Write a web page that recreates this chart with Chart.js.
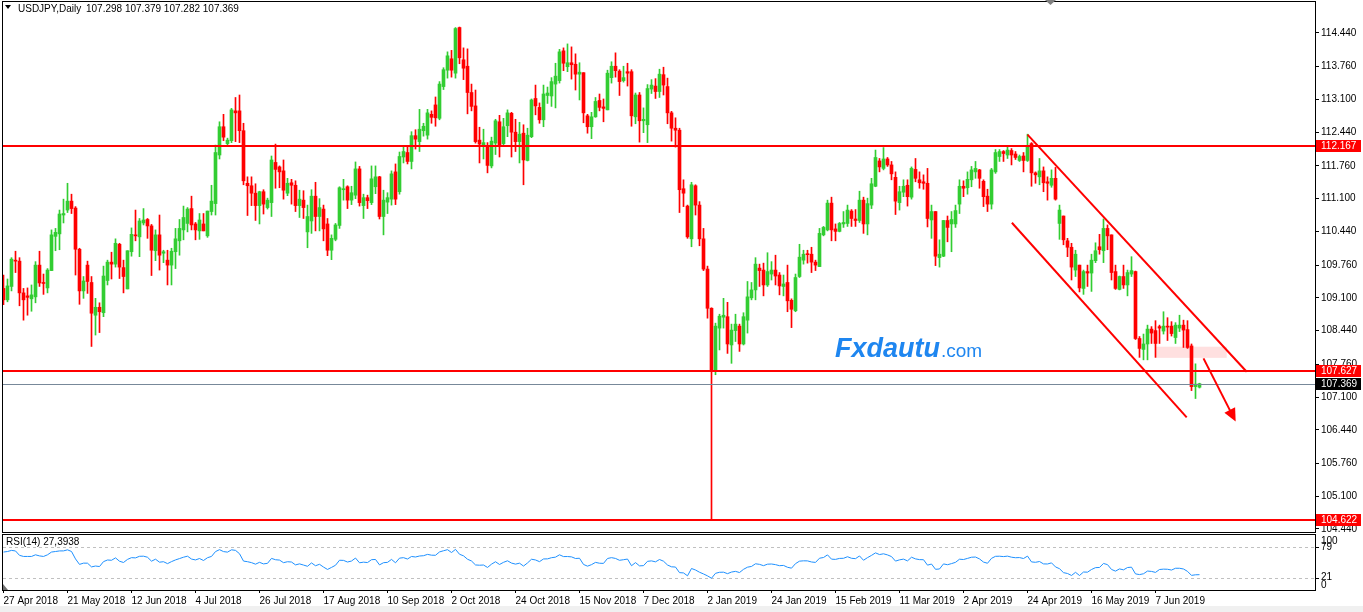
<!DOCTYPE html>
<html>
<head>
<meta charset="utf-8">
<script src="https://cdn.jsdelivr.net/npm/chart.js@4.4.1/dist/chart.umd.min.js"></script>
<style>
  html, body { margin: 0; padding: 0; background: #fff; }
  body { width: 1363px; height: 612px; position: relative; overflow: hidden; }
  #main { position: absolute; left: 0; top: 0; }
  #rsi { position: absolute; left: 0; top: 533px; }
  #strip { position: absolute; left: 0; top: 606px; width: 1363px; height: 6px; background: #f0f0f0; }
</style>
</head>
<body>
<div id="strip"></div>
<canvas id="main" width="1363" height="534"></canvas>
<canvas id="rsi" width="1363" height="79"></canvas>
<script>
// USDJPY daily bars, 27 Apr 2018 .. 24 Jun 2019
const openPrices = [
  109.29,109.06,109.33,109.86,109.84,109.20,109.14,109.08,109.12,109.76,
  109.41,109.30,109.65,110.34,110.39,110.77,110.87,111.05,110.91,110.08,
  109.24,109.76,109.41,108.75,108.91,108.80,109.45,109.82,109.78,110.18,
  109.71,109.28,110.03,110.37,110.33,110.61,110.68,110.55,110.05,110.37,
  110.00,109.86,109.76,110.03,110.25,110.47,110.60,110.90,110.59,110.45,
  110.59,110.35,110.84,111.00,111.98,112.55,112.21,112.27,112.87,112.87,
  112.47,111.41,111.36,111.21,110.96,111.24,110.92,111.02,111.83,111.74,
  111.66,111.21,111.42,111.37,110.96,111.07,110.43,110.65,111.15,110.74,
  110.89,110.59,110.06,110.28,110.56,111.28,111.34,111.07,111.17,111.70,
  110.96,111.12,111.02,111.34,111.54,110.74,111.03,111.09,111.64,111.24,
  111.94,112.03,111.85,112.37,112.25,112.47,112.38,112.80,112.99,112.72,
  113.36,113.69,113.92,113.63,114.55,113.90,113.77,113.24,112.97,112.28,
  112.16,112.15,111.76,112.22,112.65,112.21,112.57,112.82,112.44,112.25,
  112.42,111.87,112.35,113.12,112.94,112.69,113.18,113.17,113.41,113.48,
  114.08,113.76,113.84,113.81,113.61,113.64,112.77,112.55,112.75,113.08,
  112.95,112.89,113.54,113.77,113.67,113.48,113.66,113.66,112.75,113.19,
  112.67,112.59,113.31,113.37,113.26,113.60,113.36,112.83,112.52,112.48,
  111.30,110.95,110.29,111.36,110.97,110.29,109.68,108.89,107.65,108.49,
  108.71,108.72,108.15,108.44,108.53,108.17,108.65,109.10,109.26,109.70,
  109.66,109.36,109.58,109.66,109.56,109.33,109.41,109.05,108.84,109.53,
  109.86,109.98,109.98,109.82,109.73,110.37,110.47,111.01,110.49,110.44,
  110.59,110.60,110.85,110.69,110.66,111.07,110.59,110.97,111.35,111.86,
  111.71,111.90,111.78,111.53,111.02,111.23,111.37,111.13,111.69,111.48,
  111.44,111.41,110.67,110.84,109.91,109.94,110.66,110.59,110.59,110.99,
  111.35,111.32,111.48,111.64,111.68,111.45,111.15,110.99,111.64,111.95,
  112.05,111.98,112.07,112.00,111.87,111.96,111.87,112.21,111.62,111.54,
  111.66,111.44,111.37,111.51,110.60,110.75,110.25,110.12,109.66,109.76,
  109.29,109.63,109.60,109.85,110.13,110.05,110.50,110.37,109.63,109.27,
  109.53,109.36,109.58,109.63,108.28,108.06,108.17,108.47,108.44,108.52,
  108.43,108.53,108.53,108.30,108.49,108.55,108.46,108.13,107.31,107.298
];
const highPrices = [
  109.56,109.48,109.91,110.04,109.91,109.29,109.30,109.36,109.83,110.04,
  109.58,109.69,110.47,110.50,110.87,111.09,111.41,111.19,110.94,110.10,
  109.53,109.84,109.53,109.09,109.00,109.74,109.86,110.02,110.29,110.20,
  109.86,110.05,110.51,110.87,110.70,110.90,110.70,110.58,110.47,110.77,
  110.06,110.06,110.10,110.50,110.68,110.95,110.92,111.15,110.62,110.80,
  110.80,110.85,111.37,112.18,112.65,112.80,112.32,112.92,113.14,113.19,
  112.62,111.54,111.54,111.40,111.25,111.28,111.11,111.96,112.20,111.76,
  111.88,111.51,111.49,111.46,111.27,111.26,110.97,111.28,111.43,111.10,
  110.97,110.70,110.37,110.60,111.34,111.49,111.36,111.35,111.84,111.75,
  111.19,111.17,111.76,111.76,111.55,111.27,111.22,111.66,111.80,112.04,
  112.15,112.15,112.45,112.49,112.90,112.62,112.90,112.87,113.15,113.46,
  113.74,114.06,114.09,114.55,114.56,114.14,114.12,113.41,113.29,112.54,
  112.50,112.23,112.34,112.70,112.78,112.72,112.89,112.84,112.70,112.64,
  112.59,112.52,113.11,113.39,113.03,113.39,113.35,113.54,113.83,114.11,
  114.14,114.22,114.16,114.02,113.84,113.64,112.80,112.84,113.14,113.21,
  113.11,113.69,113.86,114.04,113.70,113.77,113.83,113.70,113.23,113.24,
  112.93,113.40,113.50,113.52,113.71,113.75,113.53,112.86,112.73,112.52,
  111.48,110.97,111.43,111.38,111.04,110.50,109.74,108.90,108.59,108.77,
  109.09,109.01,108.57,108.77,108.57,108.80,109.43,109.41,109.91,109.78,
  109.80,110.01,109.83,109.96,109.61,109.56,109.76,109.08,109.58,110.18,
  110.06,110.06,110.12,109.86,110.50,110.54,111.07,111.13,110.59,110.62,
  110.84,110.97,110.88,110.88,111.25,111.13,111.11,111.51,112.08,111.91,
  112.13,111.93,111.85,111.64,111.35,111.48,111.48,111.74,111.91,111.64,
  111.58,111.71,110.97,110.84,110.27,110.66,110.75,110.84,110.97,111.48,
  111.46,111.64,111.75,111.85,111.69,111.48,111.29,111.71,112.09,112.09,
  112.07,112.16,112.11,112.05,111.98,112.03,112.40,112.23,111.64,111.91,
  111.74,111.54,111.68,111.73,110.97,110.75,110.30,110.20,110.06,109.76,
  109.66,109.76,109.98,110.21,110.38,110.69,110.57,110.37,109.76,109.54,
  109.76,109.66,109.93,109.64,108.32,108.37,108.55,108.52,108.64,108.55,
  108.82,108.70,108.62,108.60,108.75,108.65,108.64,108.17,107.77,107.379
];
const lowPrices = [
  108.96,109.02,109.24,109.61,108.94,108.65,108.75,108.83,109.00,109.33,
  109.17,109.20,109.65,110.05,110.07,110.61,110.82,110.80,109.56,108.97,
  109.09,109.19,108.12,108.35,108.40,108.72,109.36,109.48,109.72,109.49,
  109.20,109.28,109.94,110.25,109.93,110.57,110.30,109.55,109.85,109.66,
  109.81,109.36,109.36,109.69,109.96,110.27,110.43,110.47,110.27,110.28,
  110.45,110.32,110.77,110.77,111.90,112.27,112.15,112.23,112.25,112.23,
  111.38,110.76,110.96,110.66,110.59,110.79,110.89,110.74,111.31,111.32,
  111.09,111.16,110.99,110.84,110.72,110.70,110.11,110.40,110.45,110.45,
  110.25,109.95,109.87,110.25,110.50,111.07,110.90,110.98,111.10,110.95,
  110.70,110.90,110.98,111.20,110.69,110.37,110.80,110.97,110.98,111.19,
  111.82,111.80,111.70,112.10,112.05,112.36,112.30,112.62,112.56,112.69,
  113.30,113.53,113.55,113.53,113.82,113.50,112.81,112.87,112.22,111.82,
  111.90,111.62,111.72,111.99,111.94,112.18,112.35,111.94,112.05,111.82,
  111.38,111.86,112.33,112.79,112.62,112.55,113.02,112.96,112.93,113.43,
  113.68,113.66,113.51,113.29,113.09,112.63,112.42,112.31,112.74,112.87,
  112.65,112.89,113.43,113.55,113.18,113.45,113.37,112.56,112.61,112.24,
  112.43,112.23,113.22,113.12,113.14,113.19,112.61,112.26,112.14,110.82,
  110.94,110.30,110.13,110.77,110.15,109.65,108.69,104.62,107.55,108.05,
  108.49,107.98,107.78,108.22,108.02,108.15,108.39,109.06,109.06,109.33,
  109.14,109.33,109.46,109.36,109.16,109.14,108.82,108.50,108.82,109.51,
  109.78,109.80,109.61,109.65,109.73,110.35,110.45,110.25,110.25,110.43,
  110.52,110.54,110.54,110.54,110.62,110.40,110.37,110.90,111.34,111.64,
  111.68,111.75,111.48,110.78,110.87,111.14,110.95,111.09,111.44,111.31,
  111.29,110.53,110.30,109.75,109.72,109.93,110.23,110.03,110.52,110.80,
  111.14,111.19,111.34,111.51,111.31,110.94,110.84,110.89,111.61,111.85,
  111.85,111.91,111.78,111.89,111.85,111.64,111.85,111.35,111.41,111.38,
  111.24,111.07,111.33,111.07,110.28,110.17,109.93,109.46,109.53,109.22,
  109.17,109.33,109.23,109.81,109.98,109.81,110.07,109.46,109.27,109.26,
  109.29,109.14,109.53,108.26,107.90,107.85,107.85,108.18,107.90,108.18,
  108.37,108.24,108.33,108.18,108.42,108.10,108.08,107.23,107.07,107.282
];
const closePrices = [
  109.06,109.34,109.88,109.84,109.20,109.06,109.11,109.16,109.76,109.40,
  109.39,109.66,110.37,110.42,110.79,110.80,111.05,110.90,110.08,109.24,
  109.44,109.43,108.79,108.91,108.82,109.54,109.82,109.78,110.20,109.72,
  109.53,110.05,110.38,110.35,110.65,110.67,110.55,110.06,110.37,109.96,
  110.03,109.76,110.04,110.29,110.50,110.72,110.89,110.57,110.47,110.67,
  110.45,110.85,111.05,112.03,112.55,112.34,112.28,112.89,112.83,112.47,
  111.46,111.36,111.21,110.96,111.24,110.99,111.07,111.88,111.69,111.64,
  111.27,111.41,111.37,110.96,111.09,110.92,110.74,111.15,110.74,110.92,
  110.49,110.06,110.30,110.57,111.32,111.30,111.07,111.22,111.70,111.02,
  111.12,111.06,111.50,111.54,110.74,111.07,111.12,111.60,111.09,111.95,
  112.05,111.85,112.37,112.30,112.50,112.56,112.83,112.74,112.73,113.41,
  113.70,113.98,113.69,114.53,113.94,113.73,113.24,112.96,112.25,112.20,
  112.23,111.77,112.26,112.67,112.18,112.55,112.83,112.44,112.25,112.40,
  111.88,112.38,113.09,112.97,112.69,113.21,113.23,113.46,113.57,114.06,
  113.83,113.84,113.80,113.61,113.65,112.83,112.55,112.75,113.06,112.94,
  112.92,113.63,113.77,113.68,113.46,113.54,113.63,112.77,113.19,112.67,
  112.70,113.32,113.39,113.26,113.61,113.39,112.83,112.52,112.48,111.28,
  111.21,110.33,111.38,110.97,110.29,109.68,108.89,107.65,108.53,108.73,
  108.75,108.17,108.45,108.57,108.17,108.72,109.12,109.26,109.78,109.65,
  109.36,109.63,109.66,109.54,109.34,109.38,109.04,108.87,109.51,109.92,
  109.98,109.97,109.82,109.76,110.40,110.52,111.01,110.47,110.44,110.60,
  110.62,110.87,110.70,110.66,111.07,110.59,111.00,111.40,111.93,111.74,
  111.90,111.78,111.60,111.05,111.24,111.35,111.14,111.71,111.51,111.42,
  111.41,110.70,110.84,109.94,109.98,110.66,110.52,110.68,110.86,111.35,
  111.31,111.49,111.68,111.71,111.51,111.14,110.99,111.68,112.03,112.05,
  112.01,112.08,111.98,111.93,111.95,111.87,112.16,111.62,111.58,111.66,
  111.42,111.41,111.51,111.09,110.87,110.27,110.12,109.72,109.98,109.30,
  109.63,109.60,109.86,110.05,110.07,110.50,110.35,109.61,109.29,109.53,
  109.36,109.61,109.65,108.28,108.08,108.17,108.47,108.39,108.18,108.49,
  108.53,108.51,108.38,108.55,108.55,108.45,108.10,107.31,107.36,107.369
];

// RSI(14) for the first bars
const rsiHead = [69, 70, 72, 71, 63, 61, 61, 61, 64, 62, 61, 64, 69, 70];

// date labels, one every 16 bars
const dateTicks = ['27 Apr 2018', '21 May 2018', '12 Jun 2018', '4 Jul 2018', '26 Jul 2018',
  '17 Aug 2018', '10 Sep 2018', '2 Oct 2018', '24 Oct 2018', '15 Nov 2018', '7 Dec 2018',
  '2 Jan 2019', '24 Jan 2019', '15 Feb 2019', '11 Mar 2019', '2 Apr 2019', '24 Apr 2019',
  '16 May 2019', '7 Jun 2019'];
const priceTicks = [104.44, 105.10, 105.76, 106.44, 107.10, 107.76, 108.44, 109.10,
  109.76, 110.44, 111.10, 111.76, 112.44, 113.10, 113.76, 114.44];

// horizontal levels and drawn objects (bar index, price)
const levels = [112.167, 107.627, 104.622];
const bidPrice = 107.369;
const channelUpper = [[256.0, 112.39], [310.8, 107.61]];
const channelLower = [[252.1, 110.615], [295.8, 106.69]];
const arrowPath = [[300.0, 107.88], [307.7, 106.66]];
const zoneBox = [287.9, 305.8, 108.115, 107.89];

const BULL = '#32cd32';
const BEAR = '#ff0000';
const FONT = 'Liberation Sans';
const X_MIN = -0.125, X_MAX = 327.875;

const candleColors = closePrices.map((c, i) => c >= openPrices[i] ? BULL : BEAR);
const bodies = closePrices.map((c, i) => ({ x: i, y: [openPrices[i], c] }));
const wicks = closePrices.map((c, i) => ({ x: i, y: [lowPrices[i], highPrices[i]] }));

// RSI(14), Wilder smoothing over the closes
function rsiSeries(closes, period) {
  const out = [];
  let avgUp = 0, avgDn = 0;
  closes.forEach((c, i) => {
    if (i === 0) { out.push(null); return; }
    const d = c - closes[i - 1];
    const k = Math.min(i, period);
    avgUp = (avgUp * (k - 1) + Math.max(d, 0)) / k;
    avgDn = (avgDn * (k - 1) + Math.max(-d, 0)) / k;
    out.push(avgDn === 0 ? 100 : 100 - 100 / (1 + avgUp / avgDn));
  });
  return out;
}
const rsiValues = rsiSeries(closePrices, 14).map((v, i) => i < rsiHead.length ? rsiHead[i] : v);

function seg(ctx, x, y, pts) {
  ctx.beginPath();
  ctx.moveTo(x.getPixelForValue(pts[0][0]), y.getPixelForValue(pts[0][1]));
  ctx.lineTo(x.getPixelForValue(pts[1][0]), y.getPixelForValue(pts[1][1]));
  ctx.stroke();
}

function priceBox(ctx, y, text, bg) {
  const py = Math.round(y);
  ctx.fillStyle = bg;
  ctx.fillRect(1316, py - 6, 45, 12);
  ctx.fillStyle = '#fff';
  ctx.fillText(text, 1321, py + 0.5);
}

const mainDecor = {
  id: 'mainDecor',
  beforeDatasetsDraw(chart) {
    const { ctx, scales: { x, y } } = chart;
    ctx.save();
    // pink zone
    const zx0 = x.getPixelForValue(zoneBox[0]), zx1 = x.getPixelForValue(zoneBox[1]);
    const zy0 = y.getPixelForValue(zoneBox[2]), zy1 = y.getPixelForValue(zoneBox[3]);
    ctx.fillStyle = '#ffe0e0';
    ctx.fillRect(zx0, zy0, zx1 - zx0, zy1 - zy0);
    // watermark
    ctx.textBaseline = 'alphabetic';
    ctx.fillStyle = '#1e86f0';
    ctx.font = 'italic bold 27px ' + FONT;
    ctx.fillText('Fxdautu', 835, 357);
    const w = ctx.measureText('Fxdautu').width;
    ctx.font = '19px ' + FONT;
    ctx.fillText('.com', 835 + w + 1, 357);
    ctx.restore();
  },
  afterDatasetsDraw(chart) {
    const { ctx, chartArea: a, scales: { x, y } } = chart;
    ctx.save();
    ctx.beginPath();
    ctx.rect(a.left, a.top, a.right - a.left, a.bottom - a.top);
    ctx.clip();
    // bid line
    ctx.fillStyle = '#778899';
    ctx.fillRect(a.left, Math.round(y.getPixelForValue(bidPrice)), a.right - a.left, 1);
    // red levels
    ctx.fillStyle = '#ff0000';
    levels.forEach(v => {
      ctx.fillRect(a.left, Math.round(y.getPixelForValue(v)) - 1, a.right - a.left, 2);
    });
    // channel and arrow
    ctx.strokeStyle = '#ff0000';
    ctx.lineWidth = 2;
    seg(ctx, x, y, channelUpper);
    seg(ctx, x, y, channelLower);
    seg(ctx, x, y, arrowPath);
    const tx = x.getPixelForValue(arrowPath[1][0]), ty = y.getPixelForValue(arrowPath[1][1]);
    const ang = Math.atan2(ty - y.getPixelForValue(arrowPath[0][1]), tx - x.getPixelForValue(arrowPath[0][0]));
    ctx.beginPath();
    ctx.moveTo(tx + 3 * Math.cos(ang), ty + 3 * Math.sin(ang));
    ctx.lineTo(tx - 10 * Math.cos(ang) + 6 * Math.sin(ang), ty - 10 * Math.sin(ang) - 6 * Math.cos(ang));
    ctx.lineTo(tx - 10 * Math.cos(ang) - 6 * Math.sin(ang), ty - 10 * Math.sin(ang) + 6 * Math.cos(ang));
    ctx.closePath();
    ctx.fill();
    ctx.restore();
  },
  afterDraw(chart) {
    const { ctx, chartArea: a, scales: { y } } = chart;
    ctx.save();
    // frame
    ctx.strokeStyle = '#000';
    ctx.lineWidth = 1;
    ctx.strokeRect(a.left - 0.5, a.top - 0.5, a.right - a.left + 1, a.bottom - a.top + 1);
    // price boxes on the axis
    ctx.font = '10px ' + FONT;
    ctx.textAlign = 'left';
    ctx.textBaseline = 'middle';
    levels.forEach(v => priceBox(ctx, y.getPixelForValue(v), v.toFixed(3), '#ff0000'));
    priceBox(ctx, y.getPixelForValue(bidPrice), bidPrice.toFixed(3), '#000');
    // header
    ctx.fillStyle = '#000';
    ctx.beginPath();
    ctx.moveTo(5, 5); ctx.lineTo(11, 5); ctx.lineTo(8, 9); ctx.closePath();
    ctx.fill();
    ctx.fillText('USDJPY,Daily', 18, 9.5);
    ctx.fillText('107.298 107.379 107.282 107.369', 86, 9.5);
    // shift marker
    ctx.fillStyle = '#808080';
    ctx.beginPath();
    ctx.moveTo(1045, 0); ctx.lineTo(1056, 0); ctx.lineTo(1050.5, 5); ctx.closePath();
    ctx.fill();
    ctx.restore();
  }
};

const rsiDecor = {
  id: 'rsiDecor',
  beforeDatasetsDraw(chart) {
    const { ctx, chartArea: a, scales: { y } } = chart;
    ctx.save();
    ctx.strokeStyle = '#c0c0c0';
    ctx.lineWidth = 1;
    ctx.setLineDash([3, 3]);
    [79, 21].forEach(v => {
      const py = Math.round(y.getPixelForValue(v)) + 0.5;
      ctx.beginPath();
      ctx.moveTo(a.left, py);
      ctx.lineTo(a.right, py);
      ctx.stroke();
    });
    ctx.restore();
  },
  afterDraw(chart) {
    const { ctx, chartArea: a, scales: { y } } = chart;
    ctx.save();
    ctx.strokeStyle = '#000';
    ctx.lineWidth = 1;
    ctx.strokeRect(a.left - 0.5, a.top - 0.5, a.right - a.left + 1, a.bottom - a.top + 1);
    ctx.fillStyle = '#000';
    ctx.font = '10px ' + FONT;
    ctx.textBaseline = 'middle';
    ctx.fillText('RSI(14) 27,3938', 6, 9.5);
    [[100, 6], [79, 1], [21, -1], [0, -5]].forEach(([v, off]) => {
      const py = y.getPixelForValue(v);
      ctx.fillText(String(v), 1321, py + off);
    });
    [79, 21].forEach(v => ctx.fillRect(a.right, Math.round(y.getPixelForValue(v)), 4, 1));
    ctx.fillStyle = '#707070';
    ctx.beginPath();
    ctx.moveTo(a.left, a.bottom - 6); ctx.lineTo(a.left, a.bottom); ctx.lineTo(a.left + 5, a.bottom);
    ctx.closePath();
    ctx.fill();
    ctx.restore();
  }
};

new Chart(document.getElementById('main'), {
  type: 'bar',
  data: {
    datasets: [
      { label: 'Body', data: bodies, backgroundColor: candleColors, barThickness: 3,
        grouped: false, minBarLength: 1, borderWidth: 0, order: 0 },
      { label: 'Wick', data: wicks, backgroundColor: candleColors, barThickness: 1,
        grouped: false, borderWidth: 0, order: 1 }
    ]
  },
  options: {
    responsive: false,
    animation: false,
    layout: { padding: { left: 3, top: 2, right: 0, bottom: 2 } },
    plugins: { legend: { display: false }, tooltip: { enabled: false } },
    scales: {
      x: { type: 'linear', display: false, offset: false, min: X_MIN, max: X_MAX },
      y: {
        position: 'right',
        min: 104.379,
        max: 115.065,
        afterBuildTicks: s => { s.ticks = priceTicks.map(v => ({ value: v })); },
        afterFit: s => { s.width = 48; s.paddingTop = 0; s.paddingBottom = 0; },
        ticks: { font: { family: FONT, size: 10 }, color: '#000', padding: 2,
          callback: v => v.toFixed(3) },
        grid: { drawOnChartArea: false, tickLength: 4, color: '#000' },
        border: { display: true, color: '#000' }
      }
    }
  },
  plugins: [mainDecor]
});

new Chart(document.getElementById('rsi'), {
  type: 'line',
  data: {
    datasets: [{
      label: 'RSI(14)',
      data: rsiValues.map((v, i) => ({ x: i, y: v })),
      borderColor: '#1e90ff',
      borderWidth: 1,
      pointRadius: 0,
      fill: false,
      tension: 0
    }]
  },
  options: {
    responsive: false,
    animation: false,
    layout: { padding: { left: 3, top: 2, right: 0, bottom: 6 } },
    plugins: { legend: { display: false }, tooltip: { enabled: false } },
    scales: {
      x: {
        type: 'linear', min: X_MIN, max: X_MAX, offset: false,
        afterBuildTicks: s => { s.ticks = dateTicks.map((_, k) => ({ value: k * 16 })); },
        afterFit: s => { s.height = 16; s.paddingLeft = 0; s.paddingRight = 0; },
        ticks: { autoSkip: false, maxRotation: 0, align: 'start', padding: 2,
          font: { family: FONT, size: 10 }, color: '#000',
          callback: v => dateTicks[Math.round(v / 16)] },
        grid: { drawOnChartArea: false, tickLength: 3, color: '#000' },
        border: { display: false }
      },
      y: {
        position: 'right', min: 0, max: 100,
        afterFit: s => { s.width = 48; },
        ticks: { display: false },
        grid: { display: false },
        border: { display: false }
      }
    }
  },
  plugins: [rsiDecor]
});
</script>
</body>
</html>
